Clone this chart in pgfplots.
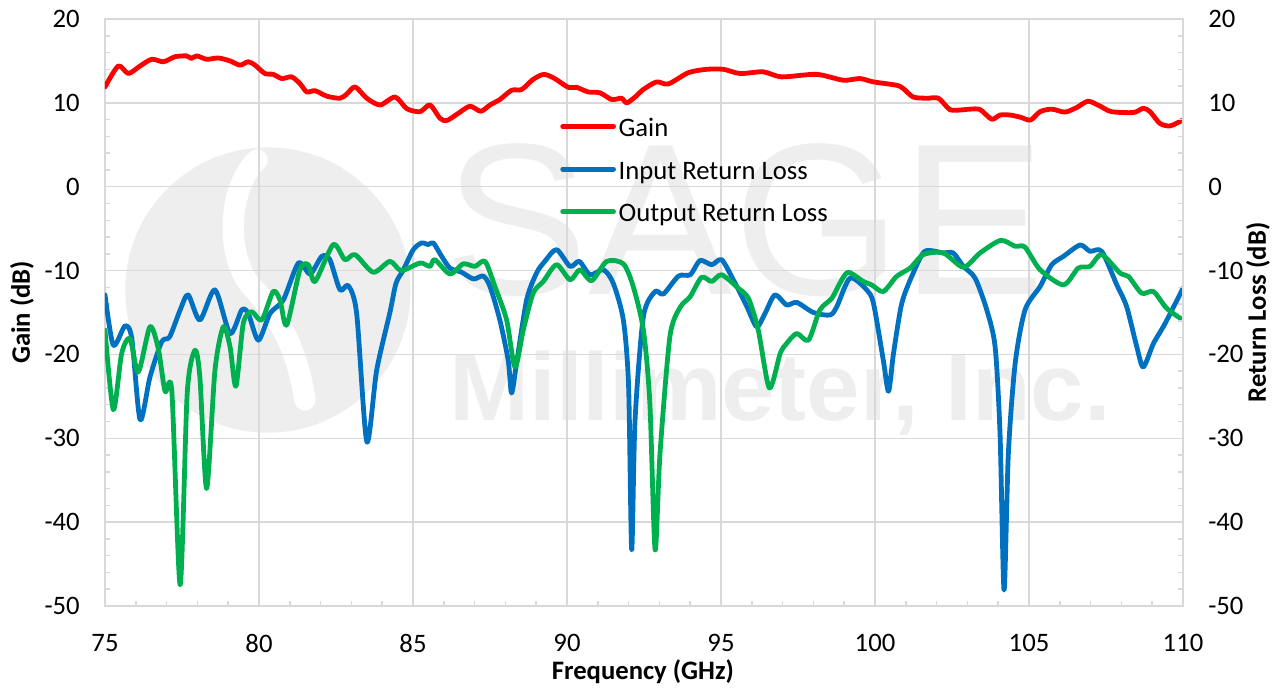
\documentclass[border=0pt]{standalone}
\usepackage{fontspec}
\setmainfont{Carlito}
\newfontfamily\wmfont{Liberation Sans}
\usepackage{pgfplots}
\pgfplotsset{compat=1.18}
\newcommand\fs{\fontsize{20}{24}\selectfont}
\definecolor{gainred}{HTML}{FF0000}
\definecolor{inblue}{HTML}{0070C0}
\definecolor{outgreen}{HTML}{00B050}
\definecolor{gridgray}{HTML}{D9D9D9}
\definecolor{wm}{HTML}{EEEEEE}
\begin{document}
\begin{tikzpicture}
\begin{axis}[
  set layers,
  scale only axis, width=808.5pt, height=440.25pt,
  xmin=75, xmax=110, ymin=-50, ymax=20,
  xtick={75,80,...,110}, ytick={-50,-40,...,20},
  minor x tick num=4, minor y tick num=4,
  grid=major, major grid style={gridgray, line width=1.1pt},
  axis line style={gridgray, line width=1.3pt},
  tick style={gridgray, line width=1.1pt},
  major tick length=3.75pt, minor tick length=3.75pt,
  xtick pos=left, ytick pos=both, yticklabel pos=left,
  tick align=inside,
  /pgf/number format/assume math mode=true,
  ticklabel style={font=\fs, inner sep=0pt},
  yticklabel style={xshift=-18.75pt},
  xticklabel style={yshift=-21pt},
  xlabel={Frequency (GHz)}, ylabel={Gain (dB)},
  label style={font=\fs\bfseries},
  xlabel style={at={(axis description cs:0.499,-0.1124)}, anchor=center},
  ylabel style={at={(axis description cs:-0.077,0.5)}, anchor=center},
  legend style={at={(axis description cs:0.4221,0.830)}, anchor=north west, draw=none, fill=none,
    font=\fs, inner sep=0pt, row sep=15pt, column sep=2pt,
    nodes={inner sep=0pt, text height=13pt, text depth=4pt}},
  legend cell align=left,
  legend image code/.code={\draw[#1, line width=3.75pt, line cap=round] (0pt,0.3em) -- (38pt,0.3em);},
  every axis plot/.append style={line width=3.6pt, line join=round, line cap=round, smooth, tension=0.45},
]
\begin{pgfonlayer}{axis background}
\fill[wm] (axis cs:80.29,-12.32) circle[radius=107pt];
\draw[white, line width=16pt, line cap=round] (axis cs:79.94,3.19) .. controls (axis cs:79.0,0) and (axis cs:78.9,-8) .. (axis cs:79.71,-11.72) .. controls (axis cs:80.3,-14) and (axis cs:81.2,-18) .. (axis cs:81.49,-25.43);
\node[wm, font=\wmfont\fontsize{162}{162}\selectfont] at (axis cs:95.78,-3.97) {SAGE};
\node[wm, font=\wmfont\bfseries\fontsize{72}{72}\selectfont] at (axis cs:96.92,-24.6) {Millimeter, Inc.};
\end{pgfonlayer}
\addplot[gainred] coordinates {
(75.00,11.9) (75.43,14.4) (75.76,13.5) (76.14,14.4) (76.52,15.2) (76.90,14.9) (77.27,15.5) (77.65,15.6)
(77.80,15.3) (77.98,15.6) (78.30,15.2) (78.68,15.35) (79.06,15.0) (79.38,14.5) (79.65,14.9) (79.87,14.5)
(80.19,13.5) (80.46,13.4) (80.74,12.9) (81.06,13.1) (81.33,12.3) (81.55,11.3) (81.82,11.45) (82.20,10.8)
(82.63,10.55) (82.85,11.05) (83.12,11.9) (83.50,10.55) (83.93,9.75) (84.42,10.7) (84.80,9.3) (85.23,8.95)
(85.55,9.75) (85.88,8.15) (86.10,7.9) (86.47,8.75) (86.85,9.6) (87.20,9.0) (87.50,9.75) (87.82,10.4)
(88.20,11.5) (88.53,11.6) (88.90,12.8) (89.25,13.4) (89.60,12.9) (90.04,11.85) (90.31,11.85) (90.69,11.3)
(91.07,11.2) (91.45,10.4) (91.77,10.55) (91.94,10.0) (92.21,10.7) (92.48,11.6) (92.91,12.5) (93.29,12.25)
(93.94,13.6) (94.53,14.0) (95.08,14.0) (95.62,13.5) (96.37,13.7) (96.97,13.1) (98.10,13.4) (98.97,12.7)
(99.51,12.9) (99.95,12.5) (100.70,12.1) (100.92,11.7) (101.24,10.7) (101.68,10.55) (102.06,10.55) (102.43,9.2)
(102.76,9.15) (103.08,9.25) (103.41,9.2) (103.79,8.05) (104.06,8.55) (104.38,8.55) (104.71,8.3) (105.05,7.95)
(105.36,8.95) (105.74,9.25) (106.17,8.9) (106.55,9.45) (106.92,10.2) (107.31,9.6) (107.68,8.95) (108.39,8.85)
(108.71,9.35) (108.93,8.95) (109.25,7.55) (109.58,7.25) (109.96,7.9)
};
\addlegendentry{Gain}
\addplot[inblue] coordinates {
(75.00,-12.9) (75.27,-18.9) (75.65,-16.6) (75.87,-18.1) (76.14,-27.8) (76.46,-22.7) (76.84,-18.5) (77.10,-17.9)
(77.44,-14.7) (77.70,-12.9) (78.08,-15.9) (78.57,-12.3) (79.06,-17.5) (79.44,-14.7) (79.65,-15.1) (79.98,-18.3)
(80.36,-15.1) (80.79,-13.5) (81.28,-9.1) (81.66,-10.4) (82.04,-8.3) (82.30,-8.7) (82.63,-12.3) (82.90,-11.8)
(83.17,-15.1) (83.50,-30.4) (83.82,-21.9) (84.25,-15.0) (84.45,-11.5) (84.69,-9.9) (85.01,-7.5) (85.28,-6.7)
(85.50,-6.9) (85.66,-6.7) (85.93,-8.3) (86.20,-9.7) (86.58,-10.2) (86.96,-11.0) (87.28,-10.65) (87.50,-11.9)
(87.82,-15.9) (88.09,-20.7) (88.20,-24.6) (88.36,-21.1) (88.69,-13.5) (89.01,-10.3) (89.28,-8.9) (89.66,-7.5)
(90.10,-9.5) (90.40,-8.9) (90.75,-10.5) (91.18,-9.9) (91.50,-11.5) (91.83,-15.9) (92.00,-23.8) (92.10,-43.3)
(92.21,-27.8) (92.48,-15.5) (92.86,-12.5) (93.13,-12.8) (93.62,-10.65) (94.00,-10.5) (94.32,-8.8) (94.70,-9.3)
(95.02,-8.7) (95.40,-11.1) (95.84,-14.3) (96.16,-16.7) (96.43,-15.1) (96.75,-12.9) (97.13,-14.1) (97.46,-13.8)
(98.00,-15.0) (98.54,-15.3) (98.76,-14.3) (99.19,-10.9) (99.73,-12.3) (99.95,-13.9) (100.27,-20.7) (100.44,-24.4)
(100.60,-19.9) (100.87,-13.9) (101.24,-10.3) (101.62,-7.7) (102.22,-7.9) (102.54,-7.9) (102.87,-9.5) (103.25,-10.9)
(103.63,-14.7) (103.90,-19.1) (104.06,-29.5) (104.19,-48.1) (104.33,-31.8) (104.55,-21.1) (104.87,-14.7) (105.36,-11.9)
(105.74,-9.3) (106.12,-8.3) (106.66,-6.95) (106.98,-7.7) (107.36,-7.7) (107.85,-11.7) (108.17,-14.3) (108.50,-19.1)
(108.71,-21.5) (109.04,-18.7) (109.42,-16.3) (110.00,-12.1)
};
\addlegendentry{Input Return Loss}
\addplot[outgreen] coordinates {
(75.00,-17.1) (75.27,-26.6) (75.54,-19.9) (75.81,-18.1) (76.08,-22.1) (76.46,-16.7) (76.73,-19.3) (76.95,-24.4)
(77.17,-24.4) (77.44,-47.5) (77.67,-24.6) (77.92,-19.5) (78.08,-22.7) (78.30,-36.0) (78.57,-21.9) (78.84,-16.7)
(79.06,-19.1) (79.25,-23.8) (79.49,-16.3) (79.76,-14.9) (80.09,-15.9) (80.46,-12.5) (80.68,-13.5) (80.90,-16.5)
(81.33,-9.9) (81.60,-9.3) (81.82,-11.3) (82.41,-6.9) (82.79,-8.7) (83.12,-8.1) (83.71,-10.2) (84.25,-8.9)
(84.62,-10.0) (85.23,-9.1) (85.55,-9.5) (85.71,-8.7) (86.20,-10.4) (86.63,-9.2) (87.01,-9.5) (87.34,-8.9)
(87.66,-11.9) (88.04,-15.9) (88.31,-21.5) (88.58,-17.1) (88.90,-12.7) (89.23,-11.3) (89.66,-9.3) (90.10,-11.1)
(90.42,-9.9) (90.80,-11.2) (91.29,-8.9) (91.83,-9.2) (92.15,-11.9) (92.48,-17.1) (92.69,-25.8) (92.86,-43.3)
(93.02,-31.8) (93.34,-17.9) (93.67,-14.4) (94.00,-13.1) (94.37,-10.8) (94.70,-11.3) (95.02,-10.5) (95.56,-12.1)
(95.89,-13.3) (96.21,-17.1) (96.57,-24.0) (96.92,-19.9) (97.13,-18.7) (97.46,-17.5) (97.84,-18.3) (98.21,-14.7)
(98.60,-13.3) (98.86,-11.5) (99.13,-10.2) (99.62,-11.3) (99.89,-11.7) (100.27,-12.5) (100.70,-10.7) (101.14,-9.7)
(101.57,-8.1) (102.22,-7.9) (102.87,-9.6) (103.41,-7.9) (104.08,-6.4) (104.55,-7.1) (104.87,-7.2) (105.36,-9.9)
(106.12,-11.7) (106.60,-9.7) (106.98,-9.5) (107.36,-8.1) (107.96,-10.3) (108.23,-10.7) (108.66,-12.7) (109.04,-12.5)
(109.47,-14.5) (110.00,-15.9)
};
\addlegendentry{Output Return Loss}
\end{axis}
\begin{axis}[
  scale only axis, width=808.5pt, height=440.25pt,
  xmin=75, xmax=110, ymin=-50, ymax=20,
  axis x line=none, axis y line*=right,
  y axis line style={-, gridgray, line width=1.3pt},
  ytick={-50,-40,...,20}, minor y tick num=4,
  tick style={gridgray, line width=1.1pt},
  major tick length=3.75pt, minor tick length=3.75pt,
  tick align=inside,
  /pgf/number format/assume math mode=true,
  yticklabel style={font=\fs, inner sep=0pt, xshift=18.75pt},
  ylabel={Return Loss (dB)},
  ylabel style={at={(axis description cs:1.0696,0.5)}, anchor=center, font=\fs\bfseries},
]
\addplot[draw=none] coordinates {(75,0)};
\end{axis}
\pgfresetboundingbox
\path (-78.75pt,-60.75pt) rectangle (880.5pt,454.5pt);
\end{tikzpicture}
\end{document}
